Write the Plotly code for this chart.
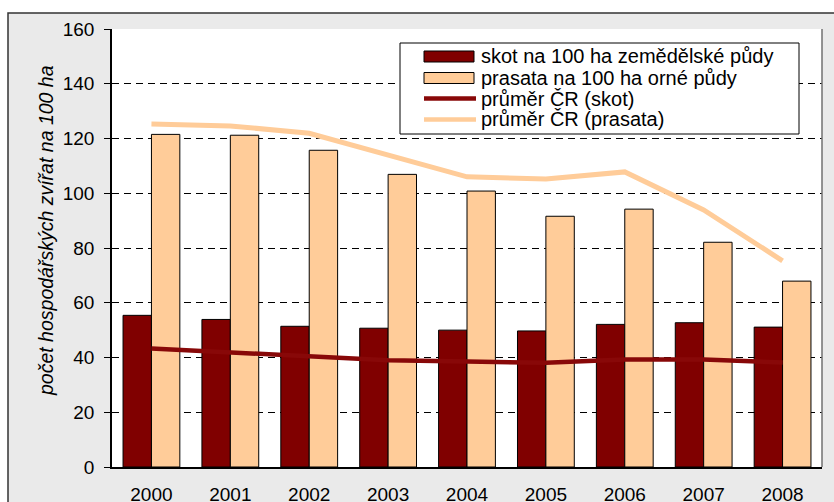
import plotly.graph_objects as go

# data
years = ['2000', '2001', '2002', '2003', '2004', '2005', '2006', '2007', '2008']
skot = [55.4, 53.9, 51.4, 50.7, 50.0, 49.7, 52.1, 52.7, 51.1]
prasata = [121.5, 121.2, 115.7, 106.9, 100.8, 91.6, 94.2, 82.1, 67.9]
prumer_skot = [43.3, 42.0, 40.5, 39.0, 38.5, 38.1, 39.3, 39.3, 38.2]
prumer_prasata = [125.3, 124.6, 121.9, 113.8, 106.0, 105.2, 107.8, 93.9, 75.3]

y_ticks = [0, 20, 40, 60, 80, 100, 120, 140, 160]

names = ['skot na 100 ha zemědělské půdy', 'prasata na 100 ha orné půdy',
         'průměr ČR (skot)', 'průměr ČR (prasata)']
colors = ['#800000', '#FFCC99', '#880808', '#FFCC99']

W, H = 834, 502
L, R, T, B = 112, 12, 29, 35
pw = W - L - R
ph = H - T - B

def px_x(x):
  return (x - L) / pw

def px_y(y):
  return (H - B - y) / ph

font = 'Liberation Sans, Arial, sans-serif'

fig = go.Figure()

fig.add_trace(go.Bar(
  x=years, y=skot, name=names[0],
  marker=dict(color=colors[0], line=dict(color='black', width=1))))
fig.add_trace(go.Bar(
  x=years, y=prasata, name=names[1],
  marker=dict(color=colors[1], line=dict(color='black', width=1))))
fig.add_trace(go.Scatter(
  x=years, y=prumer_skot, name=names[2], mode='lines',
  line=dict(color=colors[2], width=4.5)))
fig.add_trace(go.Scatter(
  x=years, y=prumer_prasata, name=names[3], mode='lines',
  line=dict(color=colors[3], width=5)))

# grey chart frame behind everything, then white plot area
fig.add_shape(type='rect', xref='paper', yref='paper', layer='below',
  x0=px_x(8), x1=px_x(W + 20), y0=px_y(H + 20), y1=px_y(13),
  fillcolor='#EAEAEA', line=dict(color='#333333', width=1.5))
fig.add_shape(type='rect', xref='paper', yref='paper', layer='below',
  x0=0, x1=1, y0=0, y1=1, fillcolor='white', line=dict(width=0))
# right edge of the plot area
fig.add_shape(type='line', xref='paper', yref='paper',
  x0=1, x1=1, y0=0, y1=1, line=dict(color='#707070', width=1.5))

# legend drawn by hand (wide bar swatches like the original)
fig.add_shape(type='rect', xref='paper', yref='paper',
  x0=px_x(400), x1=px_x(799), y0=px_y(134), y1=px_y(43),
  fillcolor='white', line=dict(color='black', width=1))
rows = [56.5, 78, 98.5, 119.5]
for i, (nm, c) in enumerate(zip(names, colors)):
  yc = rows[i]
  if i < 2:
    fig.add_shape(type='rect', xref='paper', yref='paper',
      x0=px_x(424), x1=px_x(474), y0=px_y(yc + 5.5), y1=px_y(yc - 5.5),
      fillcolor=c, line=dict(color='black', width=1))
  else:
    fig.add_shape(type='line', xref='paper', yref='paper',
      x0=px_x(424), x1=px_x(476), y0=px_y(yc), y1=px_y(yc),
      line=dict(color=c, width=4.5))
  fig.add_annotation(text=nm, xref='paper', yref='paper',
    x=px_x(479), y=px_y(yc), xanchor='left', yanchor='middle',
    showarrow=False, font=dict(family=font, size=20, color='black'))

fig.add_annotation(
  text='<i>počet hospodářských zvířat na 100 ha</i>', textangle=-90,
  xref='paper', yref='paper', x=px_x(46), y=px_y(231),
  xanchor='center', yanchor='middle',
  showarrow=False, font=dict(family=font, size=19.5, color='black'))

fig.update_layout(
  width=W, height=H,
  margin=dict(l=L, r=R, t=T, b=B),
  paper_bgcolor='white', plot_bgcolor='rgba(0,0,0,0)',
  barmode='group', bargap=0.28, bargroupgap=0,
  font=dict(family=font, size=19, color='black'),
  showlegend=False,
  xaxis=dict(
    type='category', showline=True, linecolor='black', linewidth=1.5,
    ticks='', showgrid=False, ticklabelstandoff=9, zeroline=False,
    automargin=False),
  yaxis=dict(
    range=[0, 160], tickvals=y_ticks, showline=True, linecolor='black',
    linewidth=1.5, ticks='outside', ticklen=6, tickcolor='black',
    ticklabelstandoff=6, showgrid=True, gridcolor='black', gridwidth=1,
    griddash='7px,5px', zeroline=False, automargin=False),
)

# the page's default body margin would shift the figure by 8px
fig.write_html('out.html', config={'displayModeBar': False},
  post_script="document.body.style.margin='0';")
